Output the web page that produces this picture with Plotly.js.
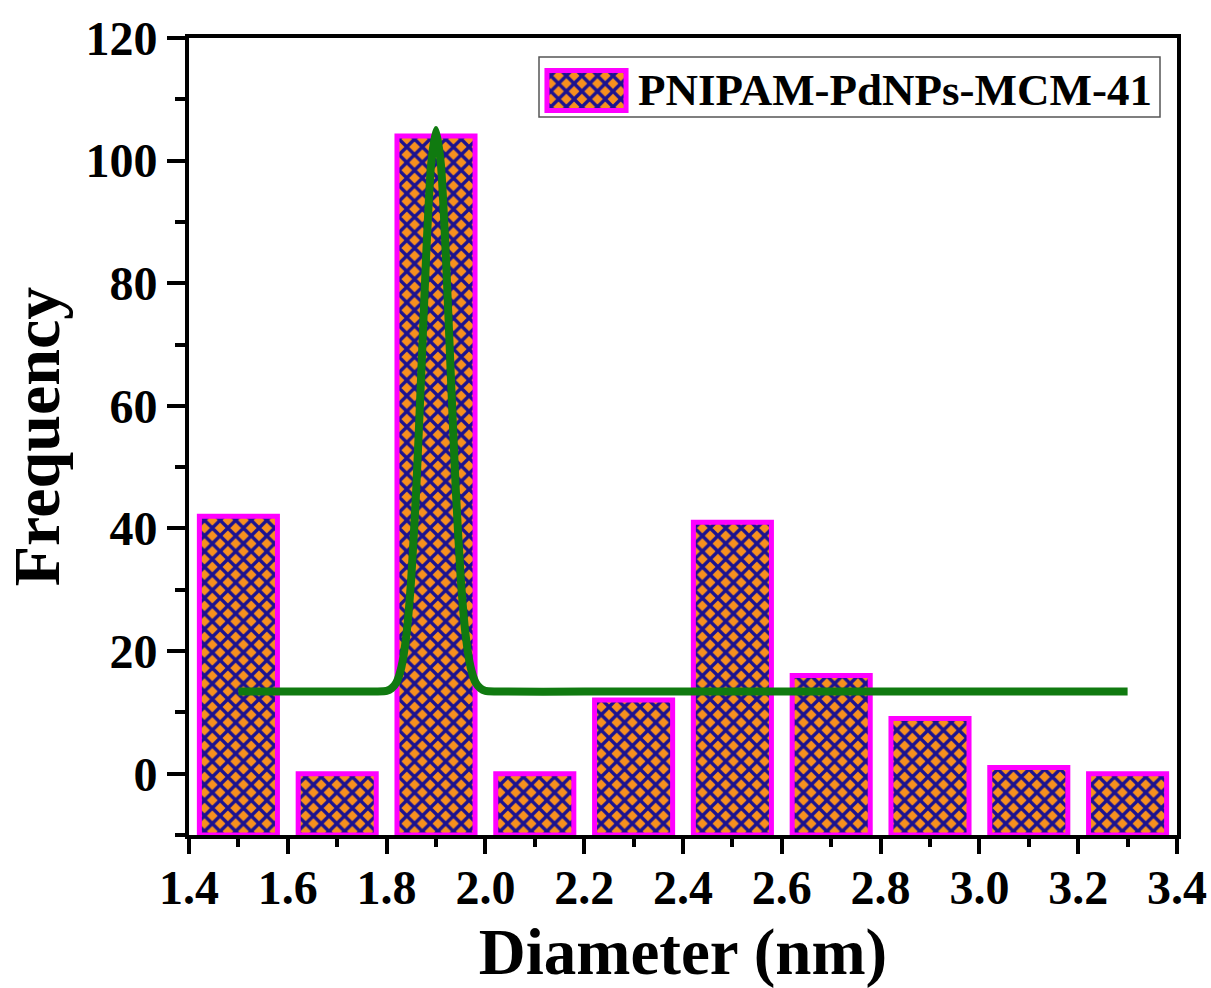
<!DOCTYPE html>
<html>
<head>
<meta charset="utf-8">
<script src="https://cdn.plot.ly/plotly-3.0.1.min.js"></script>
<style>html,body{margin:0;padding:0;background:#fff;}#chart{width:1211px;height:988px;}</style>
</head>
<body>
<div id="chart"></div>
<script>
// Histogram bins (bin centres, nm) and counts
const diameters = [1.5, 1.7, 1.9, 2.1, 2.3, 2.5, 2.7, 2.9, 3.1, 3.3];
const frequency = [42, 0, 104, 0, 12, 41, 16, 9, 1, 0];

// Gaussian fit curve
const fitX = [1.50, 1.70, 1.78, 1.80, 1.81, 1.82, 1.83, 1.84, 1.85, 1.86, 1.87, 1.88, 1.89, 1.90,
              1.91, 1.92, 1.93, 1.94, 1.95, 1.96, 1.97, 1.98, 1.99, 2.00, 2.02, 2.20, 2.60, 3.00, 3.30];
const fitY = [13.4, 13.4, 13.4, 13.5, 13.9, 14.9, 17.4, 22.6, 32.0, 46.4, 65.0, 84.4, 99.3, 105.0,
              99.3, 84.4, 65.0, 46.4, 32.0, 22.6, 17.4, 14.9, 13.9, 13.5, 13.4, 13.4, 13.4, 13.4, 13.4];

const seriesName = 'PNIPAM-PdNPs-MCM-41';
const xTitle = 'Diameter (nm)';
const yTitle = 'Frequency';
const yBottom = -10;

const FONT = 'Liberation Serif, Times New Roman, serif';
const pattern = {shape: 'x', bgcolor: '#F7901E', fgcolor: '#1B1290', size: 11, solidity: 0.52, fillmode: 'replace'};

const traces = [
  {
    type: 'bar', x: diameters, y: frequency.map(v => v - yBottom), base: yBottom,
    width: 0.158, name: seriesName, showlegend: false,
    marker: {color: '#F7901E', line: {color: '#FF00FF', width: 5}, pattern: pattern},
    hovertemplate: '%{x}: %{customdata}<extra></extra>', customdata: frequency
  },
  {
    type: 'scatter', mode: 'lines', x: fitX, y: fitY, showlegend: false,
    line: {color: '#107A10', width: 8, shape: 'spline', smoothing: 0.6}
  },
  // legend swatch
  {
    type: 'bar', x: [0], y: [1], width: 1, xaxis: 'x2', yaxis: 'y2', showlegend: false,
    marker: {color: '#F7901E', line: {color: '#FF00FF', width: 5}, pattern: pattern},
    hoverinfo: 'skip'
  }
];

const W = 1211, H = 988, L = 189, R = 34, T = 38, B = 153;
const pw = W - L - R, ph = H - T - B;
const px = v => (v - L) / pw;
const py = v => (H - B - v) / ph;

const tickFont = {family: FONT, size: 48, color: '#000', weight: 'bold'};

const layout = {
  width: W, height: H,
  margin: {l: L, r: R, t: T, b: B, pad: 0},
  paper_bgcolor: '#fff', plot_bgcolor: '#fff',
  showlegend: false,
  font: {family: FONT, color: '#000'},
  xaxis: {
    range: [1.4, 3.4], tick0: 1.4, dtick: 0.2, tickformat: '.1f',
    showline: true, linewidth: 4, linecolor: '#000', mirror: true,
    ticks: 'outside', ticklen: 15, tickwidth: 4, tickcolor: '#000',
    minor: {dtick: 0.1, ticks: 'outside', ticklen: 8, tickwidth: 4, tickcolor: '#000'},
    showgrid: false, zeroline: false, tickfont: tickFont, ticklabelstandoff: -8,
    title: {text: xTitle, font: {family: FONT, size: 65, weight: 'bold', color: '#000'}, standoff: 22}
  },
  yaxis: {
    range: [yBottom, 120], tick0: 0, dtick: 20,
    showline: true, linewidth: 4, linecolor: '#000', mirror: true,
    ticks: 'outside', ticklen: 18, tickwidth: 4, tickcolor: '#000',
    minor: {dtick: 10, ticks: 'outside', ticklen: 10, tickwidth: 4, tickcolor: '#000'},
    showgrid: false, zeroline: false, tickfont: tickFont,
    title: {text: yTitle, font: {family: FONT, size: 66, weight: 'bold', color: '#000'}, standoff: 18}
  },
  xaxis2: {domain: [px(543), px(630)], anchor: 'y2', range: [-0.55, 0.55], visible: false, fixedrange: true},
  yaxis2: {domain: [py(113), py(68)], anchor: 'x2', range: [-0.06, 1.06], visible: false, fixedrange: true},
  shapes: [
    {type: 'rect', xref: 'paper', yref: 'paper', x0: px(539), x1: px(1160), y0: py(117), y1: py(57),
     line: {color: '#555', width: 1.5}, fillcolor: 'rgba(0,0,0,0)', layer: 'below'}
  ],
  annotations: [
    {xref: 'paper', yref: 'paper', x: px(636), y: py(90), xanchor: 'left', yanchor: 'middle',
     text: seriesName, showarrow: false, font: {family: FONT, size: 45, weight: 'bold', color: '#000'}}
  ]
};

Plotly.newPlot('chart', traces, layout, {displayModeBar: false, staticPlot: true});
</script>
</body>
</html>
